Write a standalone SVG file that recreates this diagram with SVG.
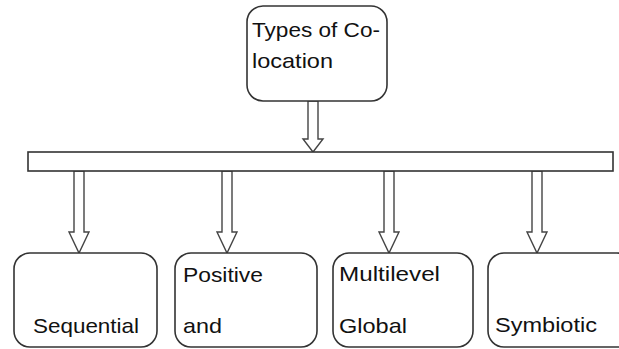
<svg xmlns="http://www.w3.org/2000/svg" width="619" height="349" viewBox="0 0 619 349">
<style>
.box{fill:#fff;stroke:#333;stroke-width:1.6}
.bar{fill:#fff;stroke:#333;stroke-width:1.6}
.arr{fill:#fff;stroke:#444;stroke-width:1.4;stroke-linejoin:miter}
.t{font-family:"Liberation Sans",Arial,sans-serif;font-size:21px;fill:#111}
</style>
<rect width="619" height="349" fill="#fff"/>
<g id="connectors">
<polygon class="arr" points="308,101 318,101 318,139 323,139 313,152 303,139 308,139"/>
<polygon class="arr" points="74,171 84,171 84,232 89,232 79,253 69,232 74,232"/>
<polygon class="arr" points="222,171 232,171 232,232 237,232 227,253 217,232 222,232"/>
<polygon class="arr" points="384,171 394,171 394,232 399,232 389,253 379,232 384,232"/>
<polygon class="arr" points="532,171 542,171 542,232 547,232 537,253 527,232 532,232"/>
</g>
<g id="node-root">
<rect class="box" x="247" y="6" width="140" height="95" rx="16"/>
<text class="t" x="252" y="37" textLength="128" lengthAdjust="spacingAndGlyphs">Types of Co-</text>
<text class="t" x="252" y="68" textLength="81" lengthAdjust="spacingAndGlyphs">location</text>
</g>
<g id="node-bar">
<rect class="bar" x="28" y="152" width="585" height="19"/>
</g>
<g id="node-sequential">
<rect class="box" x="14" y="253" width="143" height="94" rx="16"/>
<text class="t" x="33" y="333" textLength="106" lengthAdjust="spacingAndGlyphs">Sequential</text>
</g>
<g id="node-positive">
<rect class="box" x="175" y="253" width="142" height="94" rx="16"/>
<text class="t" x="183" y="282" textLength="80" lengthAdjust="spacingAndGlyphs">Positive</text>
<text class="t" x="183" y="333" textLength="39" lengthAdjust="spacingAndGlyphs">and</text>
</g>
<g id="node-multilevel">
<rect class="box" x="333" y="253" width="140" height="94" rx="16"/>
<text class="t" x="339" y="281" textLength="101" lengthAdjust="spacingAndGlyphs">Multilevel</text>
<text class="t" x="339" y="333" textLength="68" lengthAdjust="spacingAndGlyphs">Global</text>
</g>
<g id="node-symbiotic">
<rect class="box" x="488" y="253" width="145" height="94" rx="16"/>
<text class="t" x="495" y="332" textLength="102" lengthAdjust="spacingAndGlyphs">Symbiotic</text>
</g>
</svg>
